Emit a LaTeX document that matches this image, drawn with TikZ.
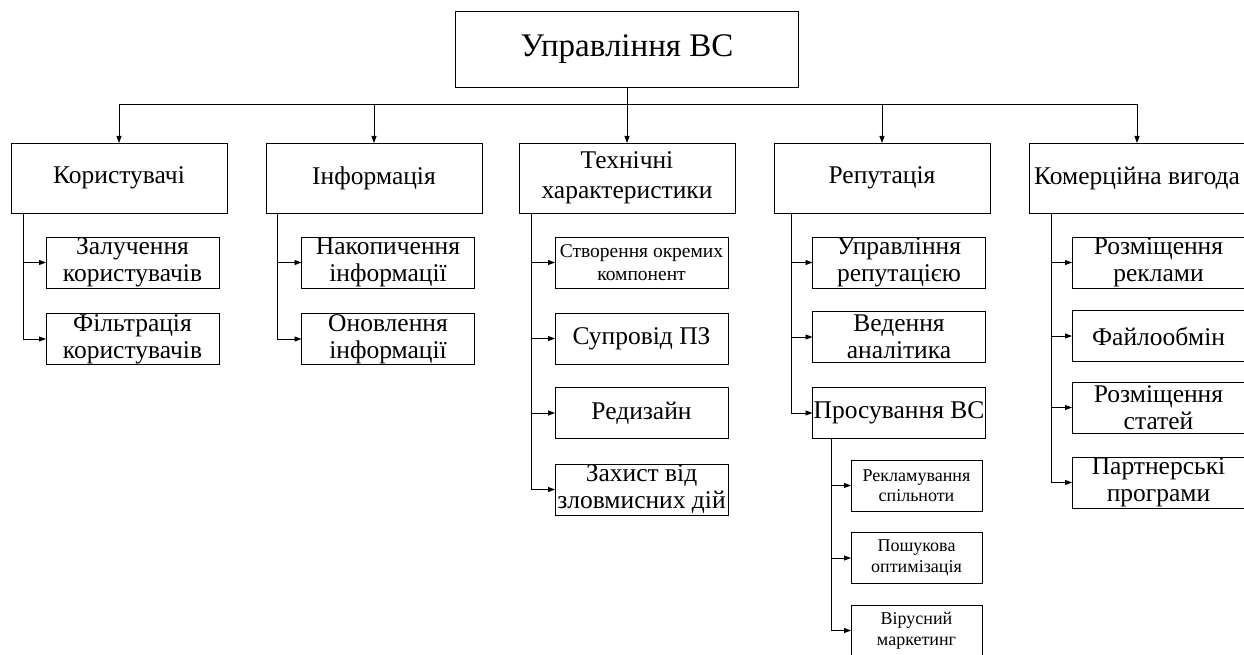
\documentclass[tikz,border=0pt]{standalone}
\usepackage{fontspec}
\setmainfont{Liberation Serif}
\usetikzlibrary{arrows.meta}
\newcommand{\cellbox}[3]{\parbox[c][#2][c]{#1}{\centering #3}}
\tikzset{
  bx/.style={draw, line width=0.8pt, inner sep=0pt, outer sep=0pt},
  arr/.style={line width=0.8pt, -{Triangle[length=7pt,width=5pt]}},
  ln/.style={line width=0.8pt},
}
\newcommand{\fA}{\fontsize{33}{38}\selectfont}
\newcommand{\fB}{\fontsize{25.5}{30}\selectfont}
\newcommand{\fC}{\fontsize{25.5}{27}\selectfont}
\newcommand{\fD}{\fontsize{19.5}{23}\selectfont}
\newcommand{\fE}{\fontsize{18}{20.5}\selectfont}
\begin{document}
\begin{tikzpicture}[x=1pt,y=-1pt]
\useasboundingbox (0,0) rectangle (1244,655);
\clip (0,0) rectangle (1244,655);
% root
\node[bx] (root) at (627,49) {\cellbox{343pt}{76pt}{\fA Управління ВС}};
% level 1
\node[bx] (k1) at (119,178) {\cellbox{216pt}{70pt}{\fB Користувачі}};
\node[bx] (k2) at (374,178) {\cellbox{216pt}{70pt}{\fB Інформація}};
\node[bx] (k3) at (627,178) {\cellbox{216pt}{70pt}{\fB Технічні\\характеристики}};
\node[bx] (k4) at (882,178) {\cellbox{216pt}{70pt}{\fB Репутація}};
\node[bx] (k5) at (1137,178) {\cellbox{216pt}{70pt}{\fB Комерційна вигода}};
\coordinate (busL) at (119,104);
\coordinate (busR) at (1137,104);
\draw[ln] (root.south) -- (root.south |- busL);
\draw[ln] (busL) -- (busR);
\foreach \k in {k1,k2,k3,k4,k5}{\draw[arr] (busL -| \k.north) -- (\k.north);}
% column 1
\node[bx] (c11) at (132.5,262.5) {\cellbox{173pt}{51pt}{\fC Залучення\\користувачів}};
\node[bx] (c12) at (132.5,339) {\cellbox{173pt}{51pt}{\fC Фільтрація\\користувачів}};
% column 2
\node[bx] (c21) at (388,262.5) {\cellbox{173pt}{51pt}{\fC Накопичення\\інформації}};
\node[bx] (c22) at (388,339) {\cellbox{173pt}{51pt}{\fC Оновлення\\інформації}};
% column 3
\node[bx] (c31) at (641.5,262.5) {\cellbox{173pt}{51pt}{\fD Створення окремих\\компонент}};
\node[bx] (c32) at (641.5,338.5) {\cellbox{173pt}{51pt}{\fC Супровід ПЗ}};
\node[bx] (c33) at (641.5,413) {\cellbox{173pt}{51pt}{\fC Редизайн}};
\node[bx] (c34) at (641.5,489.5) {\cellbox{173pt}{51pt}{\fC Захист від\\зловмисних дій}};
% column 4
\node[bx] (c41) at (899,262.5) {\cellbox{173pt}{51pt}{\fC Управління\\репутацією}};
\node[bx] (c42) at (899,337) {\cellbox{173pt}{51pt}{\fC Ведення\\аналітика}};
\node[bx] (c43) at (899,413) {\cellbox{173pt}{51pt}{\fC Просування ВС}};
\node[bx] (s1) at (916.5,485.5) {\cellbox{131pt}{51pt}{\fE Рекламування\\спільноти}};
\node[bx] (s2) at (916.5,558) {\cellbox{131pt}{51pt}{\fE Пошукова\\оптимізація}};
\node[bx] (s3) at (916.5,630.5) {\cellbox{131pt}{51pt}{\fE Вірусний\\маркетинг}};
% column 5
\node[bx] (c51) at (1158.5,262.5) {\cellbox{173pt}{51pt}{\fC Розміщення\\реклами}};
\node[bx] (c52) at (1158.5,336) {\cellbox{173pt}{51pt}{\fC Файлообмін}};
\node[bx] (c53) at (1158.5,407.5) {\cellbox{173pt}{51pt}{\fC Розміщення\\статей}};
\node[bx] (c54) at (1158.5,482.5) {\cellbox{173pt}{51pt}{\fC Партнерські\\програми}};
% connectors
\draw[ln] ([xshift=12pt]k1.south west) -- ([xshift=12pt]k1.south west |- c12.west);
\foreach \c in {c11,c12}{\draw[arr] ([xshift=12pt]k1.south west |- \c.west) -- (\c.west);}
\draw[ln] ([xshift=11pt]k2.south west) -- ([xshift=11pt]k2.south west |- c22.west);
\foreach \c in {c21,c22}{\draw[arr] ([xshift=11pt]k2.south west |- \c.west) -- (\c.west);}
\draw[ln] ([xshift=12pt]k3.south west) -- ([xshift=12pt]k3.south west |- c34.west);
\foreach \c in {c31,c32,c33,c34}{\draw[arr] ([xshift=12pt]k3.south west |- \c.west) -- (\c.west);}
\draw[ln] ([xshift=17pt]k4.south west) -- ([xshift=17pt]k4.south west |- c43.west);
\foreach \c in {c41,c42,c43}{\draw[arr] ([xshift=17pt]k4.south west |- \c.west) -- (\c.west);}
\draw[ln] ([xshift=19pt]c43.south west) -- ([xshift=19pt]c43.south west |- s3.west);
\foreach \c in {s1,s2,s3}{\draw[arr] ([xshift=19pt]c43.south west |- \c.west) -- (\c.west);}
\draw[ln] ([xshift=22pt]k5.south west) -- ([xshift=22pt]k5.south west |- c54.west);
\foreach \c in {c51,c52,c53,c54}{\draw[arr] ([xshift=22pt]k5.south west |- \c.west) -- (\c.west);}
\end{tikzpicture}
\end{document}
